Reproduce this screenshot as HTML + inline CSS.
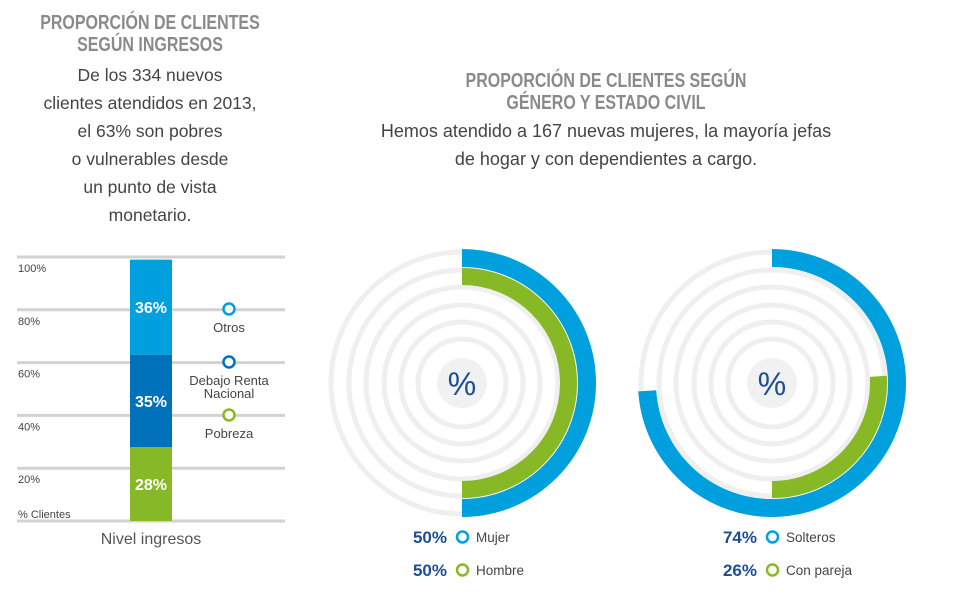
<!DOCTYPE html>
<html><head><meta charset="utf-8">
<style>
body{margin:0;width:960px;height:595px;background:#fff;font-family:"Liberation Sans",sans-serif;overflow:hidden;position:relative}
.h{position:absolute;font-family:"Liberation Sans",sans-serif;font-weight:bold;color:#8a8a8a;font-size:20px;line-height:22px;text-align:center;transform:scaleX(0.8);transform-origin:center top}
.p{position:absolute;color:#444;font-size:17px;line-height:28px;text-align:center}
</style></head><body>
<div class="h" style="left:0;top:12px;width:300px">PROPORCIÓN DE CLIENTES<br>SEGÚN INGRESOS</div>
<div class="p" style="left:0;top:61px;width:300px;font-size:17.5px">De los 334 nuevos<br>clientes atendidos en 2013,<br>el 63% son pobres<br>o vulnerables desde<br>un punto de vista<br>monetario.</div>
<div class="h" style="left:306px;top:70px;width:600px">PROPORCIÓN DE CLIENTES SEGÚN<br>GÉNERO Y ESTADO CIVIL</div>
<div class="p" style="left:306px;top:117px;width:600px;font-size:18px">Hemos atendido a 167 nuevas mujeres, la mayoría jefas<br>de hogar y con dependientes a cargo.</div>
<svg id="c" width="960" height="595" style="position:absolute;left:0;top:0"></svg>
<script>
const yTicks=[100,80,60,40,20];
const barCats=["Pobreza","Debajo Renta Nacional","Otros"];
const barVals=[28,35,36];
const barColors=["#86b925","#0072bb","#009fdd"];
const donut1Labels=["Mujer","Hombre"];
const donut1Vals=[50,50];
const donut2Labels=["Solteros","Con pareja"];
const donut2Vals=[74,26];
const NS="http://www.w3.org/2000/svg";
const svg=document.getElementById('c');
function mk(t,a,txt){const e=document.createElementNS(NS,t);for(const k in a)e.setAttribute(k,a[k]);if(txt!==undefined)e.textContent=txt;svg.appendChild(e);return e;}
const y0=521,y1=257;
function ys(v){return y0-(v/100)*(y0-y1);}
[0].concat(yTicks).forEach(v=>{const l=mk('line',{x1:17,x2:285,y1:ys(v),y2:ys(v),stroke:'#d2d2d2','stroke-width':3});

});
yTicks.forEach(v=>{const t=mk('text',{x:18,y:ys(v)+15,'font-size':11,fill:'#444'},v+'%');

});
const yt=mk('text',{x:18,y:518,'font-size':11,fill:'#444'},'% Clientes');


const xt=mk('text',{x:151,y:544,'font-size':16,fill:'#555','text-anchor':'middle'},'Nivel ingresos');


let cum=0;
barVals.forEach((v,i)=>{const top=ys(cum+v),bot=ys(cum);
const r=mk('rect',{x:130,y:top,width:42,height:bot-top,fill:barColors[i]});


const t=mk('text',{x:151,y:(top+bot)/2+6,'font-size':16,'font-weight':'bold',fill:'#fff','text-anchor':'middle'},v+'%');


cum+=v;});
const leg=[[309,'#009fdd',['Otros']],[362,'#0072bb',['Debajo Renta','Nacional']],[415,'#86b925',['Pobreza']]];
leg.forEach(([y,c,ls])=>{const ci=mk('circle',{cx:229,cy:y,r:5.5,fill:'#fff',stroke:c,'stroke-width':2.5});


ls.forEach((s,j)=>{const t=mk('text',{x:229,y:y+23+j*13,'font-size':13,fill:'#444','text-anchor':'middle'},s);

});});
function arc(cx,cy,r,a0,a1){const p=a=>[cx+r*Math.sin(a*Math.PI/180),cy-r*Math.cos(a*Math.PI/180)];const [x0,y0]=p(a0),[x1,y1]=p(a1);const large=(a1-a0)>180?1:0;return `M${x0} ${y0} A${r} ${r} 0 ${large} 1 ${x1} ${y1}`;}
function donut(cx,vals,labels,name){
 const cy=383;
 [131,113,96,78,61,44].forEach((r,i)=>{const c=mk('circle',{cx:cx,cy:cy,r:r,fill:'none',stroke:'#efefef','stroke-width':5});
 
 });
 const cc=mk('circle',{cx:cx,cy:cy,r:25,fill:'#f1f1f1'});
 
 
 const pc=mk('text',{x:cx,y:cy+12,'font-size':32,fill:'#1c4f91','text-anchor':'middle'},'%');
 
 
 const a1=Math.min(359.9,vals[0]*3.6);
 const b=mk('path',{d:arc(cx,cy,125,0,a1),fill:'none',stroke:'#009fdd','stroke-width':18});
 
 
 const g=mk('path',{d:arc(cx,cy,106.5,180-vals[1]*3.6,180),fill:'none',stroke:'#86b925','stroke-width':17});
 
 
 const cols=['#009fdd','#86b925'];
 vals.forEach((v,i)=>{const y=537+i*33;
 const t=mk('text',{x:cx-15,y:y+6,'font-size':17,'font-weight':'bold',fill:'#1c4f91','text-anchor':'end'},v+'%');
 
 
 const c=mk('circle',{cx:cx+0.5,cy:y,r:5.5,fill:'#fff',stroke:cols[i],'stroke-width':2.5});
 
 
 const l=mk('text',{x:cx+14,y:y+5,'font-size':13.5,fill:'#444'},labels[i]);
 
 });
}
donut(462,donut1Vals,donut1Labels,'gender-donut');
donut(772,donut2Vals,donut2Labels,'civil-status-donut');
</script>
</body></html>
